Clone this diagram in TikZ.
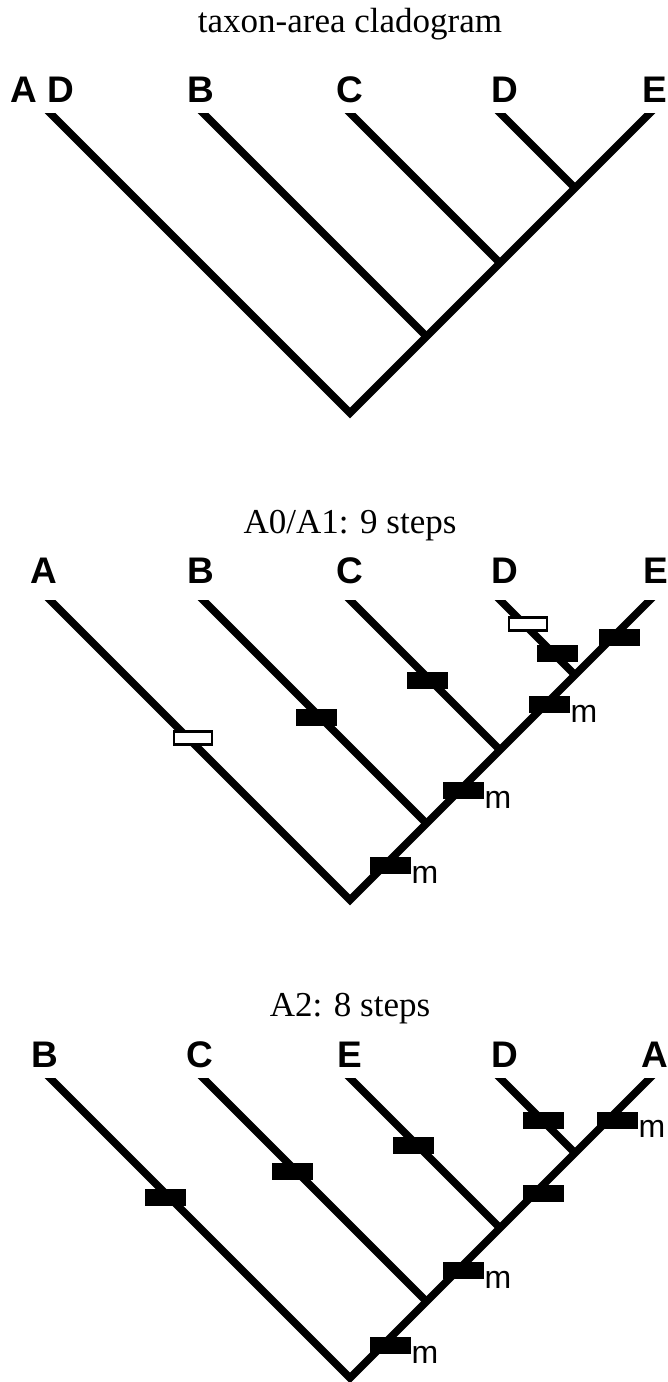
\documentclass[tikz,border=0pt]{standalone}
\usepackage{fontspec}
\setmainfont{Liberation Serif}
\setsansfont{Liberation Sans}
\usetikzlibrary{calc}
\begin{document}
\begin{tikzpicture}[x=1pt,y=-1pt,
  branch/.style={line width=7.5pt, line join=miter, line cap=butt},
  blk/.style={fill=black, minimum width=41pt, minimum height=17pt, inner sep=0pt, outer sep=0pt},
  opn/.style={draw=black, line width=2.6pt, fill=white, minimum width=38pt, minimum height=13pt, inner sep=0pt},
  lab/.style={font=\sffamily\bfseries\fontsize{37}{40}\selectfont, anchor=base, inner sep=0pt},
  ttl/.style={font=\fontsize{35}{40}\selectfont, anchor=base, inner sep=0pt},
  mlab/.style={font=\sffamily\fontsize{32}{34}\selectfont, anchor=base west, inner sep=0pt},
]
\useasboundingbox (0,0) rectangle (667,1382);

% ---------- Tree 1 ----------
\def\T{113}
\node[ttl] (t1) at (350,32) {taxon-area cladogram};
\node[lab] (l1a) at (42,102) {A D};
\node[lab] (l1b) at (201,102) {B};
\node[lab] (l1c) at (350,102) {C};
\node[lab] (l1d) at (505,102) {D};
\node[lab] (l1e) at (655,102) {E};
\coordinate (a1) at (50,\T);
\coordinate (b1) at (203,\T);
\coordinate (c1) at (350,\T);
\coordinate (d1) at (500,\T);
\coordinate (e1) at (650,\T);
\coordinate (r1) at (350,\T+300);
\coordinate (jb1) at (426.5,\T+223.5);
\coordinate (jc1) at (500,\T+150);
\coordinate (jd1) at (575,\T+75);
\begin{scope}
\clip (0,\T) rectangle (667,\T+330);
\draw[branch] ($(a1)+(-10,-10)$) -- (r1) -- ($(e1)+(10,-10)$);
\draw[branch] ($(b1)+(-10,-10)$) -- (jb1);
\draw[branch] ($(c1)+(-10,-10)$) -- (jc1);
\draw[branch] ($(d1)+(-10,-10)$) -- (jd1);
\end{scope}

% ---------- Tree 2 ----------
\def\T{600}
\node[ttl] (t2) at (350,533) {A0/A1: 9 steps};
\node[lab] (l2a) at (44,583) {A};
\node[lab] (l2b) at (201,583) {B};
\node[lab] (l2c) at (350,583) {C};
\node[lab] (l2d) at (505,583) {D};
\node[lab] (l2e) at (656,583) {E};
\coordinate (a2) at (50,\T);
\coordinate (b2) at (203,\T);
\coordinate (c2) at (350,\T);
\coordinate (d2) at (500,\T);
\coordinate (e2) at (650,\T);
\coordinate (r2) at (350,\T+300);
\coordinate (jb2) at (426.5,\T+223.5);
\coordinate (jc2) at (500,\T+150);
\coordinate (jd2) at (575,\T+75);
\begin{scope}
\clip (0,\T) rectangle (667,\T+330);
\draw[branch] ($(a2)+(-10,-10)$) -- (r2) -- ($(e2)+(10,-10)$);
\draw[branch] ($(b2)+(-10,-10)$) -- (jb2);
\draw[branch] ($(c2)+(-10,-10)$) -- (jc2);
\draw[branch] ($(d2)+(-10,-10)$) -- (jd2);
\end{scope}
\node[opn] (o2a) at (193,\T+138) {};
\node[blk] (k2b) at (316,\T+117) {};
\node[blk] (k2c) at (427,\T+80) {};
\node[opn] (o2d) at (528,\T+24) {};
\node[blk] (k2d) at (557,\T+53) {};
\node[blk] (k2e) at (619,\T+37) {};
\node[blk] (k2m1) at (549,\T+104) {};
\node[blk] (k2m2) at (463,\T+190) {};
\node[blk] (k2m3) at (390,\T+265) {};
\node[mlab] (m2a) at ($(k2m1.east)+(1,18)$) {m};
\node[mlab] (m2b) at ($(k2m2.east)+(1,18)$) {m};
\node[mlab] (m2c) at ($(k2m3.east)+(1,18)$) {m};

% ---------- Tree 3 ----------
\def\T{1078}
\node[ttl] (t3) at (350,1016) {A2: 8 steps};
\node[lab] (l3b) at (45,1067) {B};
\node[lab] (l3c) at (200,1067) {C};
\node[lab] (l3e) at (350,1067) {E};
\node[lab] (l3d) at (505,1067) {D};
\node[lab] (l3a) at (655,1067) {A};
\coordinate (a3) at (50,\T);
\coordinate (b3) at (203,\T);
\coordinate (c3) at (350,\T);
\coordinate (d3) at (500,\T);
\coordinate (e3) at (650,\T);
\coordinate (r3) at (350,\T+300);
\coordinate (jb3) at (426.5,\T+223.5);
\coordinate (jc3) at (500,\T+150);
\coordinate (jd3) at (575,\T+75);
\begin{scope}
\clip (0,\T) rectangle (667,1382);
\draw[branch] ($(a3)+(-10,-10)$) -- (r3) -- ($(e3)+(10,-10)$);
\draw[branch] ($(b3)+(-10,-10)$) -- (jb3);
\draw[branch] ($(c3)+(-10,-10)$) -- (jc3);
\draw[branch] ($(d3)+(-10,-10)$) -- (jd3);
\end{scope}
\node[blk] (k3b) at (165,\T+119) {};
\node[blk] (k3c) at (292,\T+93) {};
\node[blk] (k3e) at (413,\T+67) {};
\node[blk] (k3d) at (543,\T+42) {};
\node[blk] (k3a) at (617,\T+42) {};
\node[blk] (k3j) at (543,\T+115) {};
\node[blk] (k3m2) at (463,\T+192) {};
\node[blk] (k3m3) at (390,\T+267) {};
\node[mlab] (m3a) at ($(k3a.east)+(1,17)$) {m};
\node[mlab] (m3b) at ($(k3m2.east)+(1,18)$) {m};
\node[mlab] (m3c) at ($(k3m3.east)+(1,18)$) {m};
\end{tikzpicture}
\end{document}
